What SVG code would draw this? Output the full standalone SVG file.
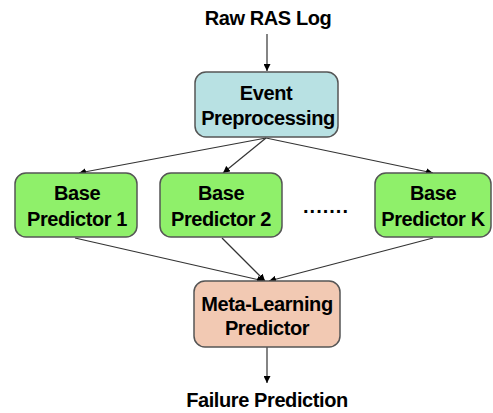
<svg xmlns="http://www.w3.org/2000/svg" width="493" height="413" viewBox="0 0 493 413">
<defs>
<marker id="ah" viewBox="0 0 10 10" refX="10" refY="5" markerWidth="7" markerHeight="7" orient="auto" markerUnits="userSpaceOnUse">
<path d="M0,0 L10,5 L0,10 z" fill="#000"/>
</marker>
<style>
text{font-family:"Liberation Sans",Arial,sans-serif;font-weight:bold;font-size:20px;letter-spacing:-0.4px;fill:#000;text-anchor:middle}
.box{stroke:#555;stroke-width:1.5}
.ev{fill:#b8e1e3}
.bp{fill:#8ff06a}
.ml{fill:#f2c9b3}
.edge{stroke:#333;stroke-width:1.2;fill:none;marker-end:url(#ah)}
</style>
</defs>
<rect width="493" height="413" fill="#fff"/>
<g id="connectors">
<line class="edge" x1="267" y1="34" x2="267" y2="71"/>
<line class="edge" x1="266" y1="138" x2="79" y2="173"/>
<line class="edge" x1="266" y1="138" x2="223" y2="173"/>
<line class="edge" x1="266" y1="138" x2="433" y2="173"/>
<line class="edge" x1="75" y1="238" x2="264" y2="281"/>
<line class="edge" x1="222" y1="238" x2="265" y2="281"/>
<line class="edge" x1="433" y1="238" x2="269" y2="281"/>
<line class="edge" x1="267" y1="347" x2="267" y2="383"/>
</g>
<g id="raw"><text x="268" y="25">Raw RAS Log</text></g>
<g id="event">
<rect class="box ev" x="195" y="72" width="143" height="65" rx="11"/>
<text x="266" y="100">Event</text>
<text x="268" y="125">Preprocessing</text>
</g>
<g id="base1">
<rect class="box bp" x="15" y="173" width="122" height="64" rx="11"/>
<text x="77" y="200">Base</text>
<text x="77" y="226">Predictor 1</text>
</g>
<g id="base2">
<rect class="box bp" x="160" y="173" width="122" height="64" rx="11"/>
<text x="221" y="200">Base</text>
<text x="221" y="226">Predictor 2</text>
</g>
<g id="dots"><text x="326" y="213" style="letter-spacing:1px">.......</text></g>
<g id="baseK">
<rect class="box bp" x="375" y="173" width="116" height="64" rx="11"/>
<text x="433" y="200">Base</text>
<text x="433" y="226">Predictor K</text>
</g>
<g id="meta">
<rect class="box ml" x="194" y="281" width="146" height="66" rx="11"/>
<text x="267" y="311">Meta-Learning</text>
<text x="267" y="335">Predictor</text>
</g>
<g id="failure"><text x="267" y="407">Failure Prediction</text></g>
</svg>
